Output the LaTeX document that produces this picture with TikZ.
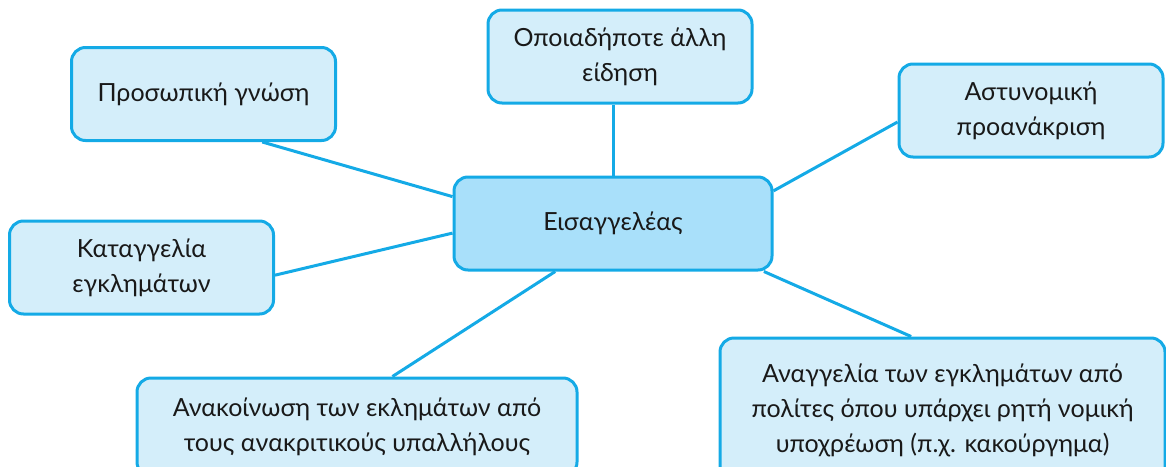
\documentclass[tikz,border=0pt]{standalone}
\usepackage{fontspec}
\setmainfont{Lato}
\usepackage{tikz}
\usetikzlibrary{shapes,positioning,calc}

\definecolor{lineblue}{RGB}{20,170,230}
\definecolor{leaffill}{RGB}{212,238,250}
\definecolor{hubfill}{RGB}{169,224,250}
\definecolor{textdark}{RGB}{25,25,25}

\begin{document}
\begin{tikzpicture}[
  x=0.5pt, y=-0.5pt,
  leaf/.style={
    draw=lineblue, line width=1.5pt, rectangle, minimum width=#1, minimum height=46.5pt,
    align=center, rounded corners=7pt, fill=leaffill, text=textdark,
    font=\fontsize{12.5}{17.5}\selectfont, inner sep=0pt
  },
  leaf/.default=132pt,
  hub/.style={
    leaf=159pt, fill=hubfill
  },
  edge/.style={draw=lineblue, line width=1.5pt}
]
\useasboundingbox (0,0) rectangle (1166,466);

\node[hub]  (eisag) at (613,223.5)  {Εισαγγελέας};
\node[leaf] (allh)  at (620,56.5)   {Οποιαδήποτε άλλη\\είδηση};
\node[leaf] (prosw) at (203.5,94)   {Προσωπική γνώση};
\node[leaf] (astyn) at (1031,110.5) {Αστυνομική\\προανάκριση};
\node[leaf] (katag) at (141.5,267.5) {Καταγγελία\\εγκλημάτων};
\node[leaf=220pt, minimum height=49pt] (anak) at (357,427)
  {Ανακοίνωση των εκλημάτων από\\τους ανακριτικούς υπαλλήλους};
\node[leaf=222.5pt, minimum height=72pt] (anag) at (942.5,410)
  {Αναγγελία των εγκλημάτων από\\πολίτες όπου υπάρχει ρητή νομική\\υποχρέωση (π.χ. κακούργημα)};

\draw[edge] (eisag.north) -- (eisag.north |- allh.south);
\draw[edge] ($(eisag.north west)!0.22!(eisag.south west)$) -- ($(prosw.south west)!0.72!(prosw.south east)$);
\draw[edge] ($(eisag.north east)!0.16!(eisag.south east)$) -- ($(astyn.north west)!0.62!(astyn.south west)$);
\draw[edge] ($(eisag.north west)!0.6!(eisag.south west)$) -- ($(katag.north east)!0.58!(katag.south east)$);
\draw[edge] ($(eisag.south west)!0.32!(eisag.south east)$) -- ($(anak.north west)!0.58!(anak.north east)$);
\draw[edge] ($(eisag.south west)!0.97!(eisag.south east)$) -- ($(anag.north west)!0.43!(anag.north east)$);

\end{tikzpicture}
\end{document}
